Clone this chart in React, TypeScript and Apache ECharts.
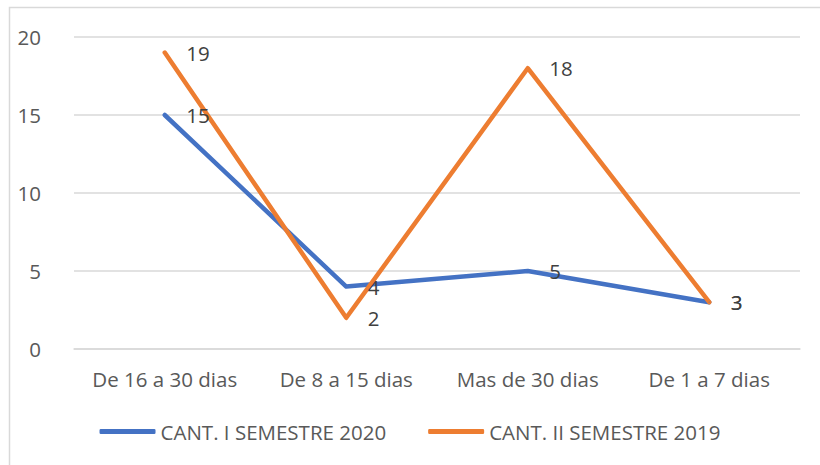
import React, { useEffect, useRef } from "react";
import * as echarts from "echarts";

const categories = ["De 16 a 30 dias", "De 8 a 15 dias", "Mas de 30 dias", "De 1 a 7 dias"];
const serie2020 = [15, 4, 5, 3];
const serie2019 = [19, 2, 18, 3];
const seriesNames = ["CANT. I SEMESTRE 2020", "CANT. II SEMESTRE 2019"];
const yTicks = { min: 0, max: 20, interval: 5 };

const FONT = "'Open Sans', Lato, sans-serif";
const FS = 20.5;

export default function App() {
  const ref = useRef<HTMLDivElement>(null);
  useEffect(() => {
    if (!ref.current) return;
    const chart = echarts.init(ref.current, null, { renderer: "svg" });
    const mkSeries = (name: string, data: number[], color: string) => ({
      name,
      type: "line",
      data,
      symbol: "circle",
      symbolSize: 1,
      itemStyle: { color },
      lineStyle: { color, width: 4.5, cap: "round", join: "round" },
      label: {
        show: true,
        position: "right",
        distance: 21,
        color: "#404040",
        fontSize: FS,
        fontFamily: FONT,
      },
    });
    chart.setOption({
      animation: false,
      backgroundColor: "#ffffff",
      textStyle: { fontFamily: FONT },
      graphic: [
        {
          type: "rect",
          shape: { x: 9.5, y: 7.5, width: 830, height: 480 },
          style: { fill: "none", stroke: "#d9d9d9", lineWidth: 1.5 },
          silent: true,
        },
      ],
      grid: { left: 74, right: 20, top: 37, bottom: 116 },
      legend: {
        bottom: 18,
        left: "center",
        itemWidth: 56,
        itemHeight: 5,
        itemGap: 42,
        icon: "roundRect",
        textStyle: { color: "#595959", fontSize: FS, fontFamily: FONT },
        data: seriesNames,
      },
      xAxis: {
        type: "category",
        data: categories,
        boundaryGap: true,
        axisLine: { show: true, lineStyle: { color: "#d9d9d9", width: 1.5 } },
        axisTick: { show: false },
        axisLabel: { color: "#595959", fontSize: FS, fontFamily: FONT, margin: 19, interval: 0 },
      },
      yAxis: {
        type: "value",
        min: yTicks.min,
        max: yTicks.max,
        interval: yTicks.interval,
        axisLine: { show: false },
        axisTick: { show: false },
        splitLine: { lineStyle: { color: "#d9d9d9", width: 1.5 } },
        axisLabel: { color: "#595959", fontSize: FS, fontFamily: FONT, margin: 33 },
      },
      series: [
        mkSeries(seriesNames[0], serie2020, "#4472C4"),
        mkSeries(seriesNames[1], serie2019, "#ED7D31"),
      ],
    });
    return () => chart.dispose();
  }, []);
  return (
    <div
      ref={ref}
      style={{ position: "absolute", left: 0, top: 0, width: 820, height: 465 }}
    />
  );
}
